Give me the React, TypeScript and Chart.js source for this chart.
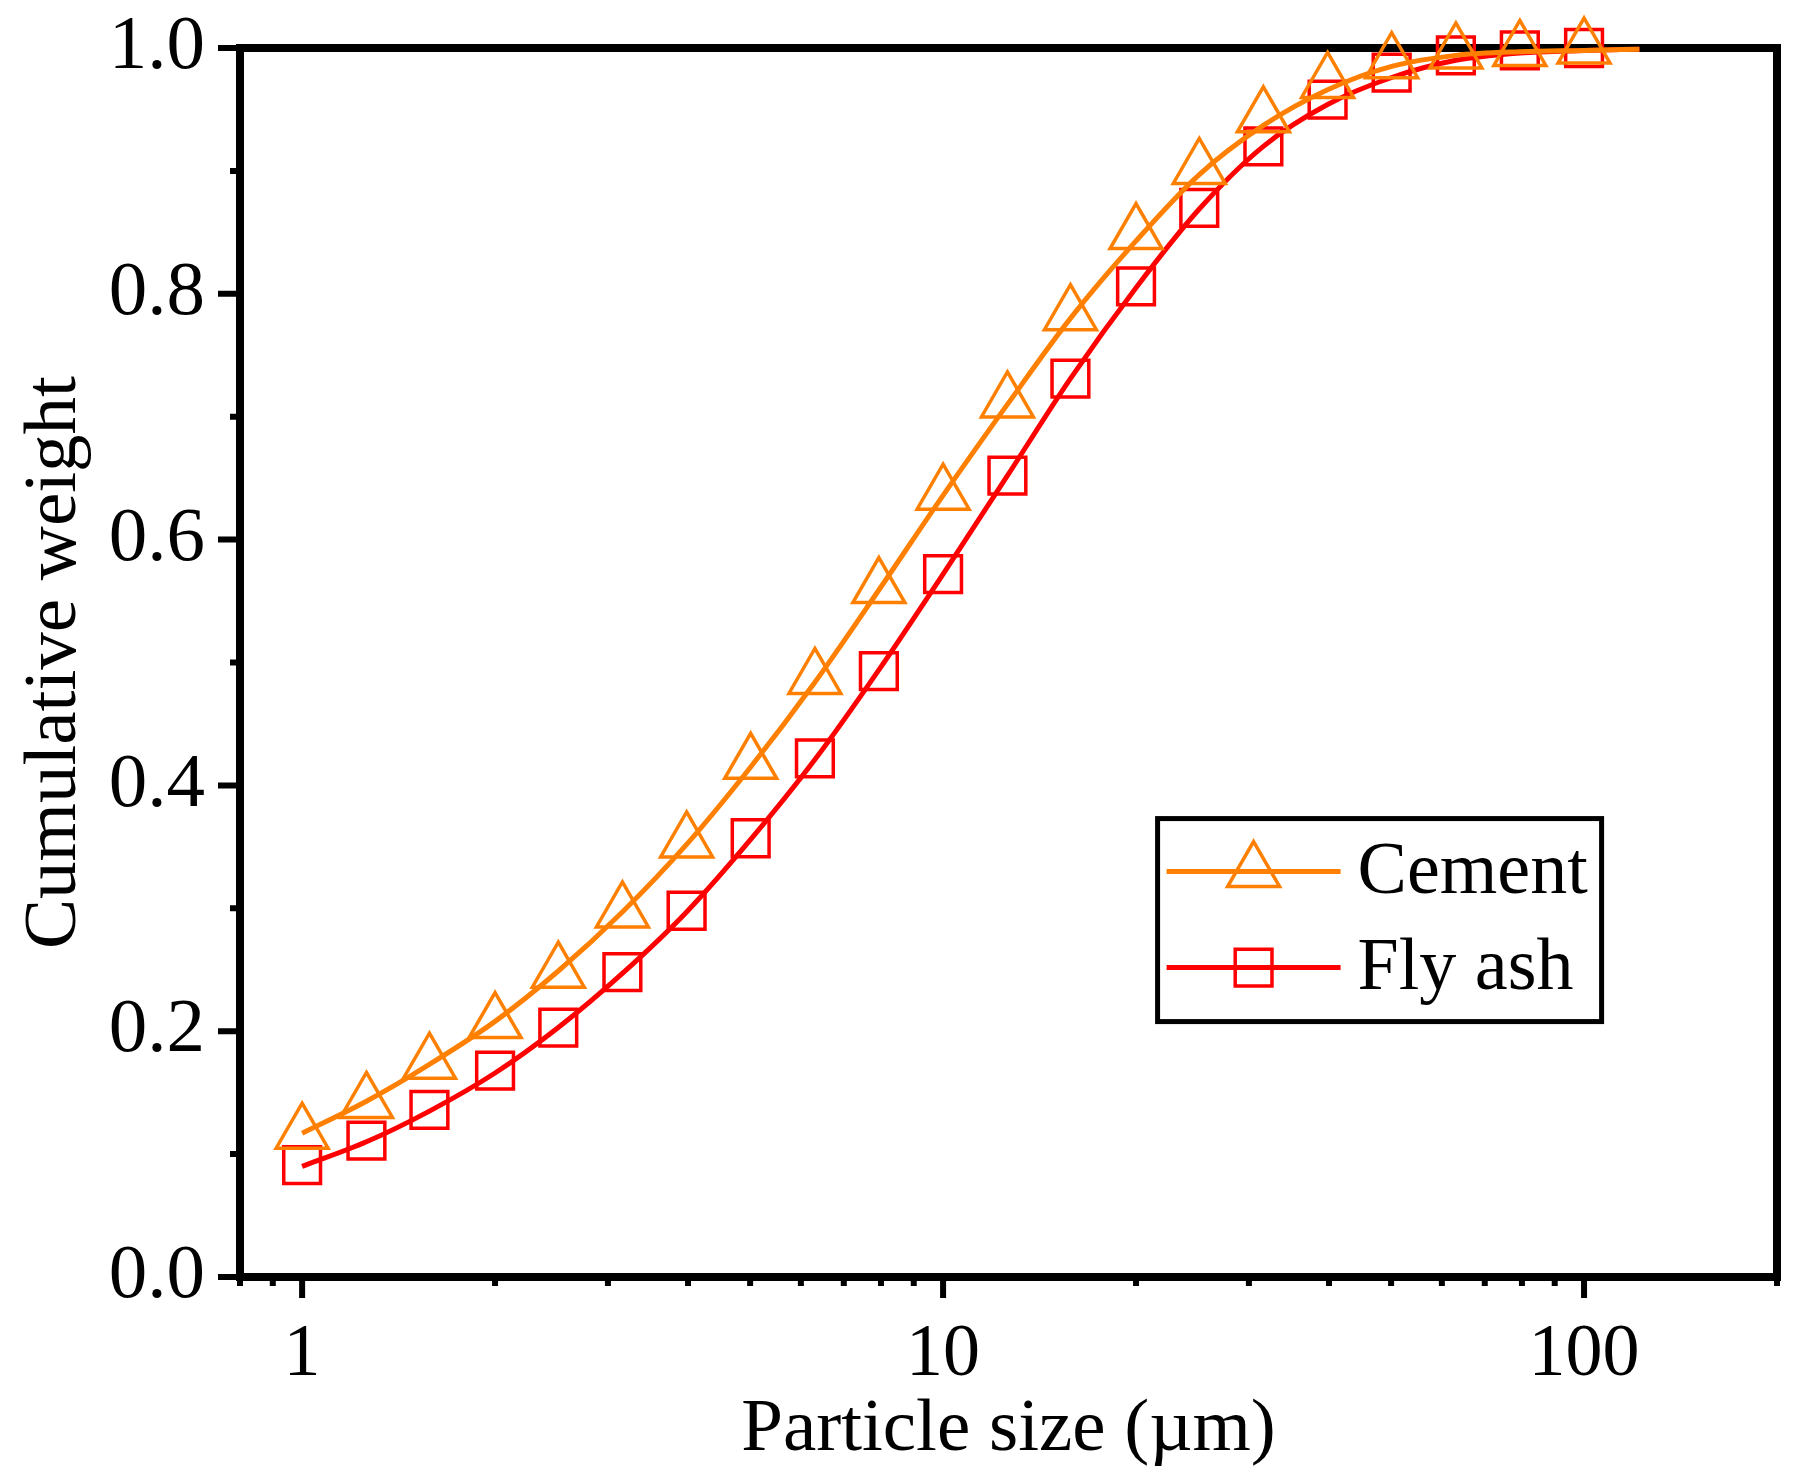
import React, { useEffect, useRef } from 'react';
import { Chart, registerables } from 'chart.js';

Chart.register(...registerables);

// ---- data ----
const particleSizes = [1, 1.26, 1.58, 2, 2.51, 3.16, 3.98, 5.01, 6.31, 7.94, 10, 12.6, 15.8, 20, 25.1, 31.6, 39.8, 50.1, 63.1, 79.4, 100];
const cementPoints = [0.117, 0.142, 0.174, 0.207, 0.248, 0.297, 0.354, 0.418, 0.487, 0.561, 0.637, 0.712, 0.783, 0.849, 0.902, 0.944, 0.972, 0.988, 0.996, 0.998, 1.0];
const flyAshPoints = [0.091, 0.111, 0.136, 0.168, 0.203, 0.248, 0.298, 0.357, 0.422, 0.493, 0.572, 0.652, 0.731, 0.806, 0.870, 0.920, 0.958, 0.980, 0.994, 0.998, 1.0];

const curveSizes = [1, 1.26, 1.58, 2, 2.51, 3.16, 3.98, 5.01, 6.31, 7.94, 10, 12.6, 15.8, 20, 25.1, 31.6, 39.8, 50.1, 63.1, 79.4, 100, 122];
const cementCurve = [0.117, 0.143, 0.173, 0.208, 0.249, 0.297, 0.352, 0.415, 0.484, 0.559, 0.636, 0.710, 0.780, 0.843, 0.897, 0.937, 0.966, 0.985, 0.994, 0.997, 0.998, 0.999];
const flyAshCurve = [0.090, 0.110, 0.135, 0.166, 0.203, 0.247, 0.297, 0.356, 0.421, 0.494, 0.572, 0.652, 0.731, 0.805, 0.869, 0.920, 0.954, 0.976, 0.990, 0.996, 0.998, 0.999];

const seriesNames = ['Cement', 'Fly ash'];
const seriesColors = ['#FF8000', '#FF0000'];

const xRange = [0.8, 200];
const xMajorTicks = [1, 10, 100];
const xMinorTicks = [0.8, 0.9, 2, 3, 4, 5, 6, 7, 8, 9, 20, 30, 40, 50, 60, 70, 80, 90, 200];
const yMajorTicks = [0, 0.2, 0.4, 0.6, 0.8, 1.0];
const yMinorTicks = [0.1, 0.3, 0.5, 0.7, 0.9];

const xTitle = 'Particle size (\u00b5m)';
const yTitle = 'Cumulative weight';

const FONT = "'Liberation Serif', 'Times New Roman', serif";

const pairs = (xs: number[], ys: number[]) => xs.map((x, i) => ({ x, y: ys[i] }));

const framePlugin = {
  id: 'frameTicks',
  beforeDatasetsDraw(chart: any) {
    const { ctx, chartArea: a, scales } = chart;
    const xs = scales.x;
    const ys = scales.y;
    ctx.save();
    ctx.strokeStyle = '#000';
    ctx.lineWidth = 6;
    ctx.lineCap = 'butt';
    ctx.beginPath();
    for (const v of xMajorTicks) {
      const px = xs.getPixelForValue(v);
      ctx.moveTo(px, a.bottom);
      ctx.lineTo(px, a.bottom + 21);
    }
    for (const v of xMinorTicks) {
      const px = xs.getPixelForValue(v);
      ctx.moveTo(px, a.bottom);
      ctx.lineTo(px, a.bottom + 9);
    }
    for (const v of yMajorTicks) {
      const py = ys.getPixelForValue(v);
      ctx.moveTo(a.left, py);
      ctx.lineTo(a.left - 22, py);
    }
    for (const v of yMinorTicks) {
      const py = ys.getPixelForValue(v);
      ctx.moveTo(a.left, py);
      ctx.lineTo(a.left - 10, py);
    }
    ctx.stroke();
    ctx.lineWidth = 8;
    ctx.lineJoin = 'miter';
    ctx.strokeRect(a.left, a.top, a.right - a.left, a.bottom - a.top);
    ctx.restore();
  },
};

const legendPlugin = {
  id: 'customLegend',
  afterDatasetsDraw(chart: any) {
    const { ctx, chartArea: a } = chart;
    const w = a.right - a.left;
    const h = a.bottom - a.top;
    const bx = a.left + w * 0.597;
    const by = a.top + h * 0.627;
    const bw = 444;
    const bh = 203;
    ctx.save();
    ctx.fillStyle = '#fff';
    ctx.fillRect(bx, by, bw, bh);
    ctx.strokeStyle = '#000';
    ctx.lineWidth = 5;
    ctx.strokeRect(bx, by, bw, bh);
    const rows = [by + 53, by + 149];
    seriesNames.forEach((name, i) => {
      const cy = rows[i];
      const color = seriesColors[i];
      ctx.strokeStyle = color;
      ctx.lineWidth = 5;
      ctx.beginPath();
      ctx.moveTo(bx + 9, cy);
      ctx.lineTo(bx + 183, cy);
      ctx.stroke();
      const mx = bx + 96;
      ctx.lineWidth = 3.5;
      ctx.beginPath();
      if (i === 0) {
        const r = 30;
        ctx.moveTo(mx, cy - r);
        ctx.lineTo(mx + r * Math.sin((2 * Math.PI) / 3), cy - r * Math.cos((2 * Math.PI) / 3));
        ctx.lineTo(mx + r * Math.sin((4 * Math.PI) / 3), cy - r * Math.cos((4 * Math.PI) / 3));
        ctx.closePath();
      } else {
        const s = 26 * Math.SQRT1_2;
        ctx.rect(mx - s, cy - s, 2 * s, 2 * s);
      }
      ctx.stroke();
      ctx.fillStyle = '#000';
      ctx.font = `74px ${FONT}`;
      ctx.textAlign = 'left';
      ctx.textBaseline = 'middle';
      ctx.fillText(name, bx + 200, cy + 2);
    });
    ctx.restore();
  },
};

export default function App() {
  const canvasRef = useRef<HTMLCanvasElement | null>(null);

  useEffect(() => {
    document.body.style.margin = '0';
    const canvas = canvasRef.current;
    if (!canvas) return;
    const chart = new Chart(canvas, {
      type: 'line',
      data: {
        datasets: [
          {
            label: seriesNames[0] + ' points',
            data: pairs(particleSizes, cementPoints),
            showLine: false,
            pointStyle: 'triangle',
            pointRadius: 30,
            pointBorderWidth: 3.5,
            pointBorderColor: seriesColors[0],
            pointBackgroundColor: 'rgba(0,0,0,0)',
            borderColor: seriesColors[0],
            clip: false,
          },
          {
            label: seriesNames[0],
            data: pairs(curveSizes, cementCurve),
            pointRadius: 0,
            borderColor: seriesColors[0],
            borderWidth: 5,
            cubicInterpolationMode: 'monotone',
            fill: false,
            clip: false,
          },
          {
            label: seriesNames[1] + ' points',
            data: pairs(particleSizes, flyAshPoints),
            showLine: false,
            pointStyle: 'rect',
            pointRadius: 26,
            pointBorderWidth: 3.5,
            pointBorderColor: seriesColors[1],
            pointBackgroundColor: 'rgba(0,0,0,0)',
            borderColor: seriesColors[1],
            clip: false,
          },
          {
            label: seriesNames[1],
            data: pairs(curveSizes, flyAshCurve),
            pointRadius: 0,
            borderColor: seriesColors[1],
            borderWidth: 5,
            cubicInterpolationMode: 'monotone',
            fill: false,
            clip: false,
          },
        ] as any,
      },
      options: {
        responsive: false,
        animation: false,
        devicePixelRatio: 1,
        events: [],
        layout: { padding: { left: 0, right: 43, top: 48, bottom: 0 } },
        plugins: {
          legend: { display: false },
          tooltip: { enabled: false },
        },
        scales: {
          x: {
            type: 'logarithmic',
            min: xRange[0],
            max: xRange[1],
            grid: { display: false },
            border: { display: false },
            afterBuildTicks: (s: any) => {
              s.ticks = xMajorTicks.map((v) => ({ value: v, major: true }));
            },
            afterFit: (s: any) => {
              s.height = 203;
              s.paddingLeft = 0;
              s.paddingRight = 0;
            },
            ticks: {
              color: '#000',
              padding: 26,
              maxRotation: 0,
              autoSkip: false,
              font: { family: FONT, size: 74 },
              callback: (v: any) => String(v),
            },
            title: {
              display: true,
              text: xTitle,
              color: '#000',
              font: { family: FONT, size: 75 },
              padding: { top: 0, bottom: 5 },
            },
          },
          y: {
            type: 'linear',
            min: 0,
            max: 1,
            grid: { display: false },
            border: { display: false },
            afterBuildTicks: (s: any) => {
              s.ticks = yMajorTicks.map((v) => ({ value: v }));
            },
            afterFit: (s: any) => {
              s.width = 240;
              s.paddingTop = 0;
              s.paddingBottom = 0;
            },
            ticks: {
              color: '#000',
              padding: 27,
              font: { family: FONT, size: 77 },
              callback: (v: any) => Number(v).toFixed(1),
            },
            title: {
              display: true,
              text: yTitle,
              color: '#000',
              font: { family: FONT, size: 75 },
              padding: { top: 10, bottom: 0 },
            },
          },
        },
      } as any,
      plugins: [framePlugin, legendPlugin],
    });
    return () => chart.destroy();
  }, []);

  return (
    <div style={{ position: 'absolute', left: 0, top: 0, width: 1820, height: 1480, background: '#fff' }}>
      <canvas ref={canvasRef} width={1820} height={1480} style={{ width: 1820, height: 1480, display: 'block' }} />
    </div>
  );
}
